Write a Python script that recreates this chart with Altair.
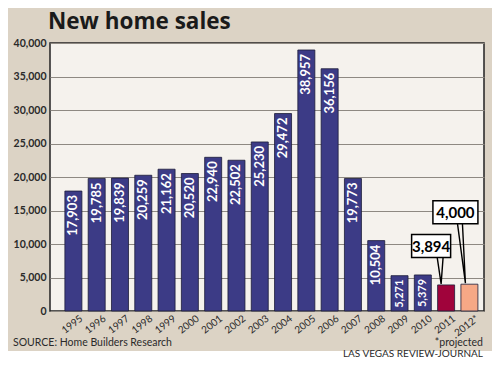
import altair as alt
import pandas as pd

years = ["1995", "1996", "1997", "1998", "1999", "2000", "2001", "2002", "2003",
         "2004", "2005", "2006", "2007", "2008", "2009", "2010", "2011", "2012*"]
sales = [17903, 19785, 19839, 20259, 21162, 20520, 22940, 22502, 25230,
         29472, 38957, 36156, 19773, 10504, 5271, 5379, 3894, 4000]
groups = ["history"] * 16 + ["2011", "projected"]
y_ticks = [0, 5000, 10000, 15000, 20000, 25000, 30000, 35000, 40000]

title_text = "New home sales"
source_text = "SOURCE: Home Builders Research"
note_text = "*projected"
credit_text = "LAS VEGAS REVIEW-JOURNAL"

df = pd.DataFrame({"year": years, "sales": sales, "group": groups})
df["label"] = df["sales"].map(lambda v: f"{v:,}")

BG = "#dcd3c5"
NAVY = "#3c3b86"
FONT = "Lato"

base = alt.Chart(df)

x_enc = alt.X("year:N", sort=years, title=None,
              scale=alt.Scale(paddingInner=0.27, paddingOuter=0.45, align=0.71),
              axis=alt.Axis(labelAngle=-38, labelAlign="right", labelBaseline="top",
                            labelPadding=2, labelOffset=5, ticks=False, domain=False,
                            labelFont=FONT, labelFontSize=10, labelColor="#2a2a2a"))
y_enc = alt.Y("sales:Q", title=None,
              scale=alt.Scale(domain=[0, 40000], nice=False, zero=True),
              axis=alt.Axis(values=y_ticks, format=",d", grid=True, gridColor="#8e8982",
                            gridWidth=1, domain=False, ticks=False, labelPadding=4,
                            labelOverlap=False,
                            labelFont=FONT, labelFontSize=10.5, labelFontWeight="bold",
                            labelColor="#2a2a2a"))

bars = base.mark_bar(stroke="#1c1c38", strokeWidth=0.8).encode(
    x=x_enc,
    y=y_enc,
    color=alt.Color("group:N", legend=None,
                    scale=alt.Scale(domain=["history", "2011", "projected"],
                                    range=[NAVY, "#a0033b", "#f6a886"])),
)

inside = base.transform_filter(alt.datum.group == "history").mark_text(
    angle=270, align="right", baseline="middle", yOffset=4,
    color="white", font=FONT, fontWeight="bold",
).encode(
    x=x_enc,
    y=y_enc,
    text="label:N",
    size=alt.condition(alt.datum.sales < 8000, alt.value(11), alt.value(13)),
)

def callout(year, box_dy, box_dx, tip_dx, pointer_path, w, h):
    sub = base.transform_filter(alt.datum.year == year)
    # pointer wedge drawn as an open symbol outline (size=4 -> path units are pixels)
    pointer = sub.mark_point(shape=pointer_path, size=4, filled=False, stroke="black",
                             strokeWidth=1.4, opacity=1, xOffset=tip_dx,
                             yOffset=-1).encode(x=x_enc, y=y_enc)
    box = sub.mark_rect(width=w, height=h, xOffset=box_dx, yOffset=box_dy,
                        fill="white", stroke="black", strokeWidth=1.5).encode(
        x=x_enc, y=y_enc)
    txt = sub.mark_text(xOffset=box_dx, yOffset=box_dy + 1, font=FONT, fontWeight="bold",
                        fontSize=15, color="black", align="center",
                        baseline="middle").encode(text="label:N", x=x_enc, y=y_enc)
    return [pointer, box, txt]

c1 = callout("2011", -39, -15, -5, "M -4 -27 L 0 0 L 2 -27", 39, 23)
c2 = callout("2012*", -72, -14, -4, "M -8 -60 L 0 0 L -3 -60", 45, 23)

one = alt.Chart(pd.DataFrame({"k": [0]}))
strip = one.mark_rect(color="white").encode(
    x=alt.value(-42), x2=alt.value(442), y=alt.value(308), y2=alt.value(316))
title = one.mark_text(align="left", baseline="alphabetic", font="Open Sans",
                      fontWeight="bold", fontSize=22.5, color="#1a1a1a").encode(
    x=alt.value(-2), y=alt.value(-14), text=alt.value(title_text))
source = one.mark_text(align="left", baseline="middle", font=FONT, fontSize=10.5,
                       color="#2a2a2a").encode(
    x=alt.value(-37), y=alt.value(300), text=alt.value(source_text))
note = one.mark_text(align="right", baseline="middle", font=FONT, fontSize=10.5,
                     color="#2a2a2a").encode(
    x=alt.value(433), y=alt.value(300), text=alt.value(note_text))
credit = one.mark_text(align="right", baseline="alphabetic", font=FONT, fontSize=10,
                       color="#2a2a2a").encode(
    x=alt.value(433), y=alt.value(314), text=alt.value(credit_text))

chart = alt.layer(bars, inside, *c1, *c2, strip, title, source, note, credit).properties(
    width=434, height=268,
    padding={"left": 42, "top": 35, "right": 8, "bottom": 47},
    autosize=alt.AutoSizeParams(type="none"),
    background=BG,
).configure_view(fill="#f5f2ed", stroke="#222222", strokeWidth=1.5)

chart.save("out.html", embed_options={"renderer": "svg", "actions": False})
